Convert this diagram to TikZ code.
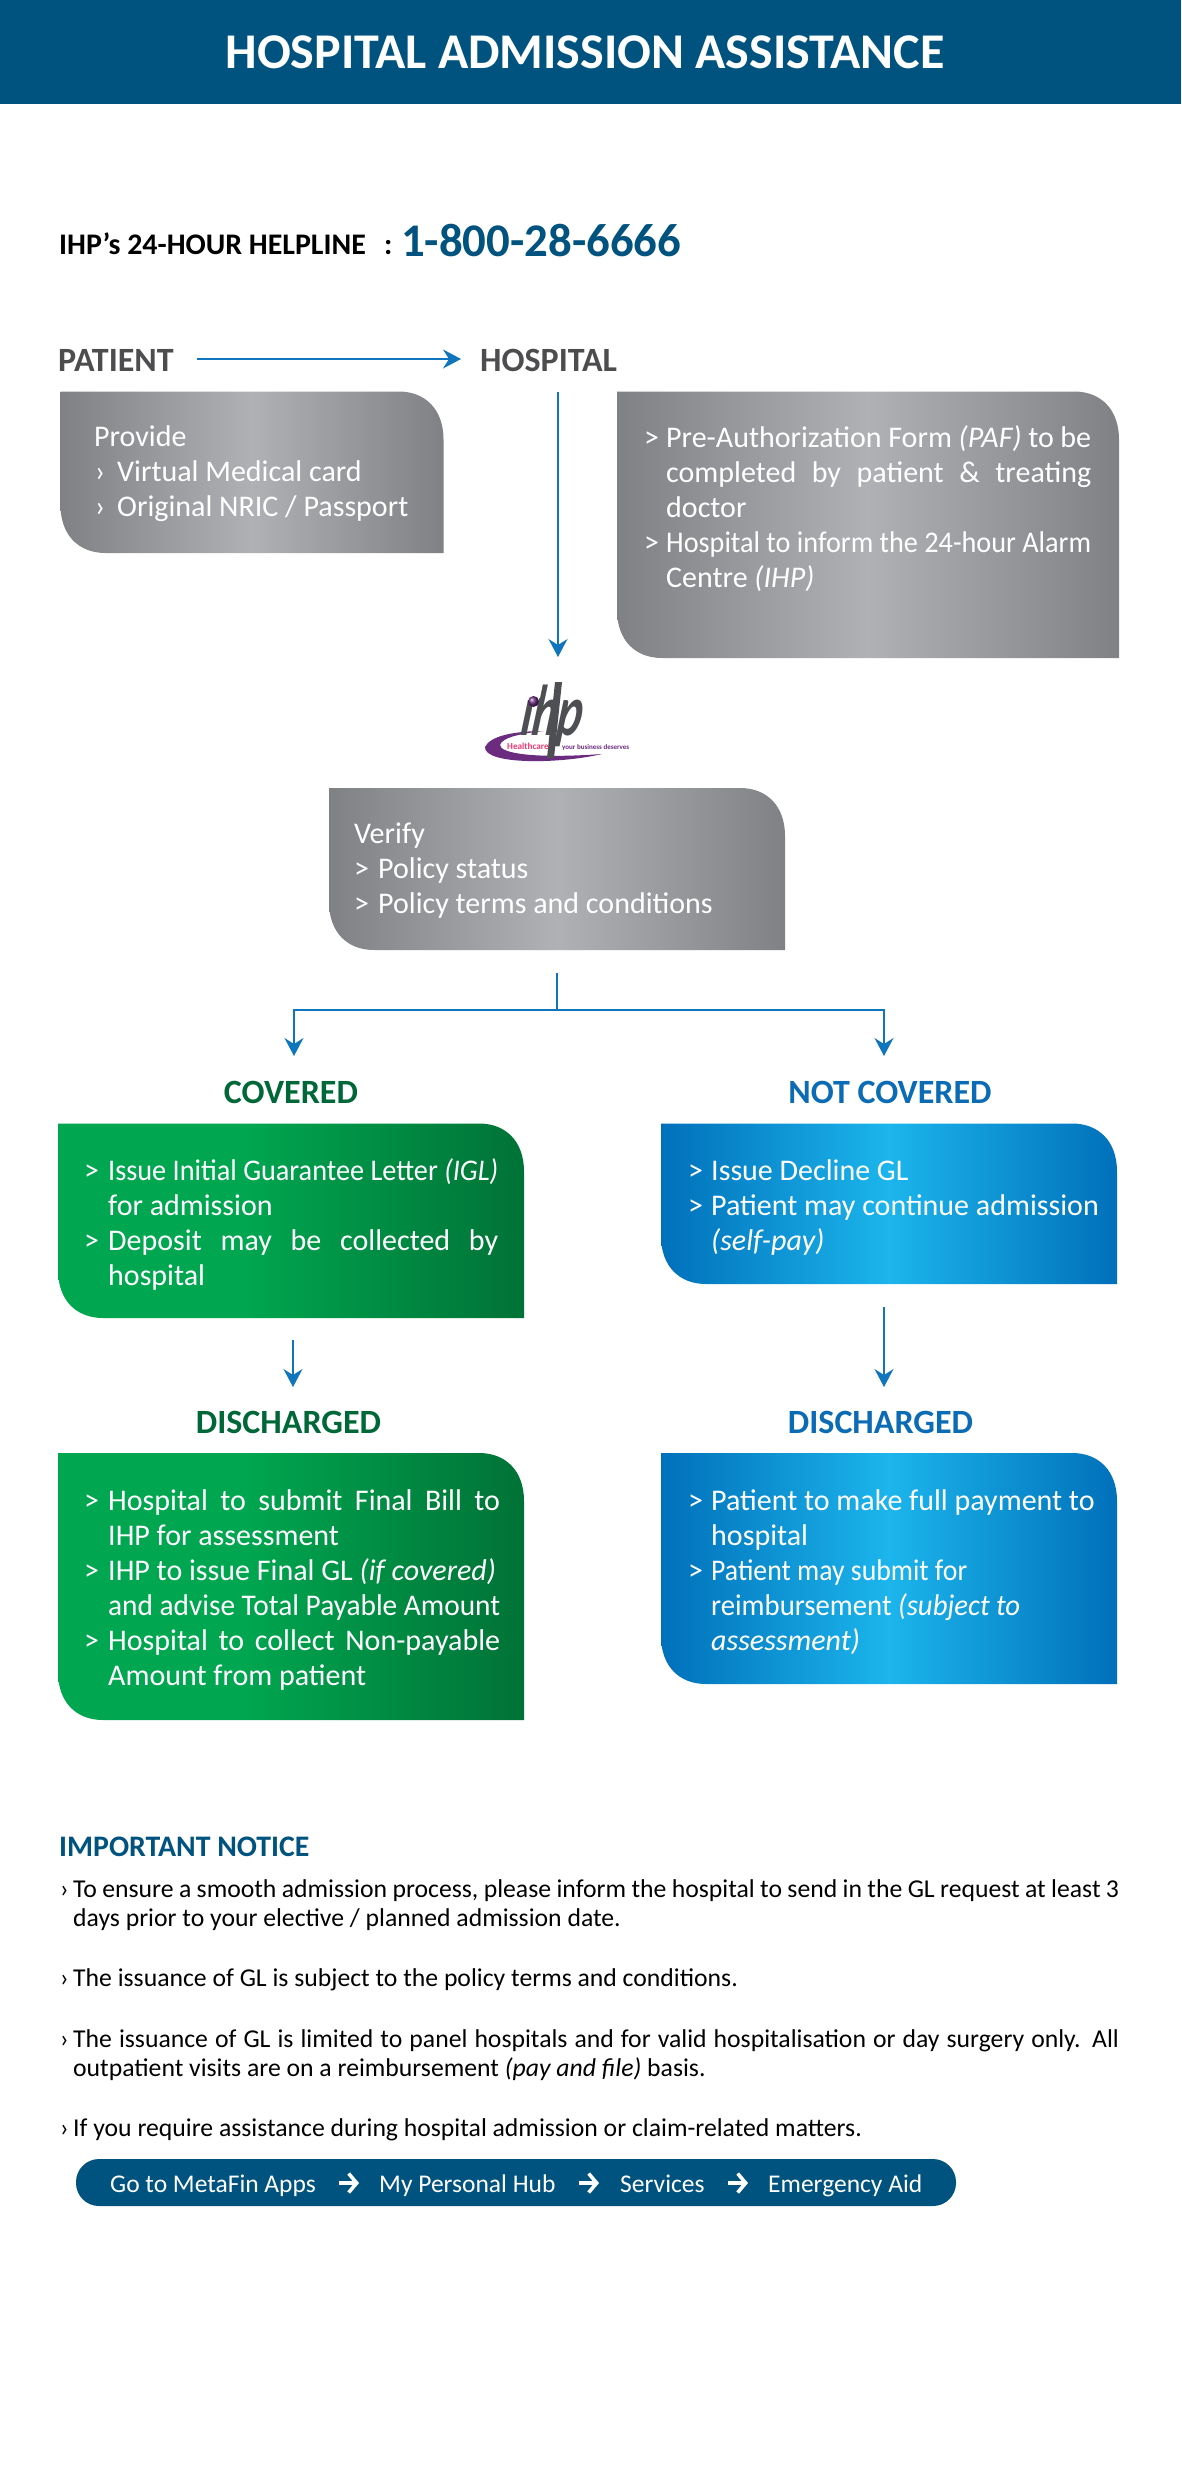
\documentclass[tikz,border=0pt]{standalone}
\usepackage{fontspec}
\usepackage{graphicx}
\setmainfont{Carlito}
\usetikzlibrary{arrows.meta,calc}
\definecolor{navy}{HTML}{00537F}
\definecolor{flow}{HTML}{0F75BC}
\definecolor{head}{HTML}{4D4D4F}
\definecolor{gA}{HTML}{808184}
\definecolor{gB}{HTML}{B0B1B4}
\definecolor{grA}{HTML}{00A650}
\definecolor{grB}{HTML}{007236}
\definecolor{grT}{HTML}{006838}
\definecolor{blA}{HTML}{0070BA}
\definecolor{blB}{HTML}{1CB5EC}
\definecolor{blT}{HTML}{0B6CB5}
\definecolor{ihpP}{HTML}{6B2C80}
\definecolor{ihpG}{HTML}{4D4F53}
\definecolor{ihpR}{HTML}{EE3A72}
\pgfdeclarehorizontalshading{grayS}{100bp}{color(0bp)=(gA);color(25bp)=(gA);color(50bp)=(gB);color(75bp)=(gA);color(100bp)=(gA)}
\pgfdeclarehorizontalshading{greenS}{100bp}{color(0bp)=(grA);color(25bp)=(grA);color(45bp)=(grA);color(75bp)=(grB);color(100bp)=(grB)}
\pgfdeclarehorizontalshading{blueS}{100bp}{color(0bp)=(blA);color(25bp)=(blA);color(50bp)=(blB);color(75bp)=(blA);color(100bp)=(blA)}
\tikzset{
 x=1pt,y=-1pt,
 flowline/.style={draw=flow,line width=1.4pt},
 flowarrow/.style={flowline,-{Stealth[length=18pt,width=19pt,inset=6pt]}},
 heading/.style={inner sep=0pt,font=\fontsize{34}{34}\selectfont\bfseries,anchor=base},
 txt/.style={inner sep=0pt,anchor=base west,text=white,font=\fontsize{30}{35}\selectfont},
 notice/.style={inner sep=0pt,anchor=base west,text=black,font=\fontsize{25.7}{30}\selectfont},
 pilltxt/.style={inner sep=0pt,anchor=base west,text=white,font=\fontsize{25.5}{30}\selectfont},
 pillarrow/.style={draw=white,line width=3.4pt,-{Straight Barb[length=8pt,width=19pt,line width=3.6pt]}},
}
% box with sharp top-left and bottom-right corners, rounded top-right and bottom-left
\newcommand{\leafbox}[6]{% name, x1, y1, x2, y2, shading
  \path[shade,shading=#6] (#2,#3) -- ({#4-45},#3) .. controls ({#4-18},#3) and (#4,{#3+18}) .. (#4,{#3+48})
     -- (#4,#5) -- ({#2+45},#5) .. controls ({#2+18},#5) and (#2,{#5-18}) .. (#2,{#5-48}) -- cycle;
  \coordinate (#1) at ({(#2+#4)/2},{(#3+#5)/2});
}
\newcommand{\fit}[2]{\makebox[#1][s]{#2}}
\newcommand{\squeeze}[2]{\resizebox{#1}{\height}{#2}}
\begin{document}
\begin{tikzpicture}
\useasboundingbox (0,0) rectangle (1181,2480);
\fill[white] (0,0) rectangle (1181,2480);
% header
\fill[navy] (0,0) rectangle (1181,104);
\node[inner sep=0pt,anchor=base,text=white,font=\fontsize{50}{50}\selectfont\bfseries] (title) at (585,69) {HOSPITAL ADMISSION ASSISTANCE};
% helpline
\node[inner sep=0pt,anchor=base west,text=black,font=\fontsize{29.9}{30}\selectfont\bfseries] (help) at (59,255) {IHP’s 24-HOUR HELPLINE};
\node[inner sep=0pt,anchor=base west,text=black,font=\fontsize{29.9}{30}\selectfont\bfseries] (colon) at (384,255) {:};
\node[inner sep=0pt,anchor=base west,text=navy,font=\fontsize{46.8}{47}\selectfont\bfseries] (phone) at (401,257) {1-800-28-6666};
% patient / hospital
\node[heading,text=head,anchor=base west] (patient) at (58,371) {PATIENT};
\node[heading,text=head,anchor=base west] (hospital) at (480,371) {HOSPITAL};
\coordinate (pa) at (197,359); \coordinate (pb) at (461,359);
\draw[flowarrow] (pa) -- (pb);
% gray boxes
\leafbox{patbox}{60.5}{391.5}{443.5}{553}{grayS}
\leafbox{hosbox}{617}{391.5}{1119}{658}{grayS}
\node[txt] (p1) at (94,446) {Provide};
\node[txt] (p2b) at (95,481) {›}; \node[txt] (p2) at (117,481) {Virtual Medical card};
\node[txt] (p3b) at (95,516) {›}; \node[txt] (p3) at (117,516) {Original NRIC / Passport};
\node[txt] (h1b) at (644,447) {>}; \node[txt] (h1) at (666,447) {\fit{425pt}{Pre-Authorization Form \textit{(PAF)} to be}};
\node[txt] (h2) at (666,482) {\fit{425pt}{completed by patient \& treating}};
\node[txt] (h3) at (666,517) {doctor};
\node[txt] (h4b) at (644,552) {>}; \node[txt] (h4) at (666,552) {\squeeze{425pt}{Hospital to inform the 24-hour Alarm}};
\node[txt] (h5) at (666,587) {Centre \textit{(IHP)}};
% logo
\coordinate (hosdown) at (558,392); \coordinate (logotop) at (558,657);
\draw[flowarrow] (hosdown) -- (logotop);
\begin{scope}[shift={(440,660)}]
 \fill[ihpP] (45,87) .. controls (50,76) and (74,71) .. (104,71) .. controls (84,73) and (62,77) .. (60,85)
   .. controls (60,93) and (92,99) .. (162,94) .. controls (120,104) and (44,105) .. (45,87) -- cycle;
 \node[inner sep=0pt,anchor=base,text=ihpG,xscale=0.66,xslant=0.2,font=\fontsize{72}{72}\selectfont\bfseries\itshape] (ihp) at (110,75) {ihp};
 \fill[white] (66,18) -- (104,18) -- (100,38) -- (66,38) -- cycle;
 \fill[ihpG] (115,22) -- (122,22) -- (114,98) -- (107,98) -- cycle;
 \shade[ball color=ihpP] (93.5,41.5) circle (5.5);
 \node[inner sep=0pt,anchor=base west,text=ihpR,font=\fontsize{9.2}{10}\selectfont\bfseries] (hc) at (67,89) {Healthcare};
 \node[inner sep=0pt,anchor=base west,text=ihpP,font=\fontsize{7}{10}\selectfont\bfseries] (yb) at (122,89) {your business deserves};
\end{scope}
% verify
\leafbox{verbox}{329}{788}{785}{950}{grayS}
\node[txt] (v1) at (354,843) {Verify};
\node[txt] (v2b) at (354,878) {>}; \node[txt] (v2) at (378,878) {Policy status};
\node[txt] (v3b) at (354,913) {>}; \node[txt] (v3) at (378,913) {Policy terms and conditions};
% branches
\coordinate (vb) at (557,973); \coordinate (vs) at (557,1010);
\coordinate (covt) at (294,1056); \coordinate (nott) at (884,1056);
\draw[flowline] (vb) -- (vs);
\draw[flowarrow] (vs) -| (covt);
\draw[flowarrow] (vs) -| (nott);
% covered
\node[heading,text=grT] (cov) at (291,1103) {COVERED};
\node[heading,text=blT] (nc) at (890,1103) {NOT COVERED};
\leafbox{cbox}{58}{1123.5}{524}{1318}{greenS}
\leafbox{nbox}{661}{1123.5}{1117}{1284}{blueS}
\node[txt] (c1b) at (84,1180) {>}; \node[txt] (c1) at (108,1180) {\squeeze{390pt}{Issue Initial Guarantee Letter \textit{(IGL)}}};
\node[txt] (c2) at (108,1215) {for admission};
\node[txt] (c3b) at (84,1250) {>}; \node[txt] (c3) at (108,1250) {\fit{390pt}{Deposit may be collected by}};
\node[txt] (c4) at (108,1285) {hospital};
\node[txt] (n1b) at (688,1180) {>}; \node[txt] (n1) at (711,1180) {Issue Decline GL};
\node[txt] (n2b) at (688,1215) {>}; \node[txt] (n2) at (711,1215) {Patient may continue admission};
\node[txt] (n3) at (711,1250) {\textit{(self-pay)}};
\coordinate (cd) at (293,1340); \coordinate (cdt) at (293,1387);
\coordinate (nd) at (884,1307); \coordinate (ndt) at (884,1387);
\draw[flowarrow] (cd) -- (cdt);
\draw[flowarrow] (nd) -- (ndt);
\node[heading,text=grT] (dl) at (288.5,1433) {DISCHARGED};
\node[heading,text=blT] (dr) at (880.5,1433) {DISCHARGED};
\leafbox{cbox2}{58}{1453}{524}{1720}{greenS}
\leafbox{nbox2}{661}{1453}{1117}{1684}{blueS}
\node[txt] (d1b) at (84,1510) {>}; \node[txt] (d1) at (108,1510) {\fit{392pt}{Hospital to submit Final Bill to}};
\node[txt] (d2) at (108,1545) {IHP for assessment};
\node[txt] (d3b) at (84,1580) {>}; \node[txt] (d3) at (108,1580) {IHP to issue Final GL \textit{(if covered)}};
\node[txt] (d4) at (108,1615) {\squeeze{392pt}{and advise Total Payable Amount}};
\node[txt] (d5b) at (84,1650) {>}; \node[txt] (d5) at (108,1650) {\fit{392pt}{Hospital to collect Non-payable}};
\node[txt] (d6) at (108,1685) {Amount from patient};
\node[txt] (e1b) at (688,1510) {>}; \node[txt] (e1) at (711,1510) {Patient to make full payment to};
\node[txt] (e2) at (711,1545) {hospital};
\node[txt] (e3b) at (688,1580) {>}; \node[txt] (e3) at (711,1580) {\squeeze{256pt}{Patient may submit for}};
\node[txt] (e4) at (711,1615) {\squeeze{309pt}{reimbursement \textit{(subject to}}};
\node[txt] (e5) at (711,1650) {\textit{assessment)}};
% notice
\node[inner sep=0pt,anchor=base west,text=navy,font=\fontsize{29.8}{30}\selectfont\bfseries] (imp) at (59,1856) {IMPORTANT NOTICE};
\node[notice] (i1b) at (60,1897) {›}; \node[notice] (i1) at (73,1897) {\fit{1046pt}{To ensure a smooth admission process, please inform the hospital to send in the GL request at least 3}};
\node[notice] (i2) at (73,1926) {days prior to your elective / planned admission date.};
\node[notice] (i3b) at (60,1986) {›}; \node[notice] (i3) at (73,1986) {The issuance of GL is subject to the policy terms and conditions.};
\node[notice] (i4b) at (60,2047) {›}; \node[notice] (i4) at (73,2047) {\fit{1046pt}{The issuance of GL is limited to panel hospitals and for valid hospitalisation or day surgery only. All}};
\node[notice] (i5) at (73,2076) {outpatient visits are on a reimbursement \textit{(pay and file)} basis.};
\node[notice] (i6b) at (60,2136) {›}; \node[notice] (i6) at (73,2136) {If you require assistance during hospital admission or claim-related matters.};
% pill
\fill[navy,rounded corners=23pt] (76,2159) rectangle (956,2206);
\node[pilltxt] (g1) at (110,2192) {Go to MetaFin Apps};
\node[pilltxt] (g2) at (379,2192) {My Personal Hub};
\node[pilltxt] (g3) at (620,2192) {Services};
\node[pilltxt] (g4) at (768,2192) {Emergency Aid};
\coordinate (a1) at (339,2183); \coordinate (a1e) at (359,2183);
\coordinate (a2) at (579,2183); \coordinate (a2e) at (599,2183);
\coordinate (a3) at (728,2183); \coordinate (a3e) at (748,2183);
\draw[pillarrow] (a1) -- (a1e);
\draw[pillarrow] (a2) -- (a2e);
\draw[pillarrow] (a3) -- (a3e);
\end{tikzpicture}
\end{document}
